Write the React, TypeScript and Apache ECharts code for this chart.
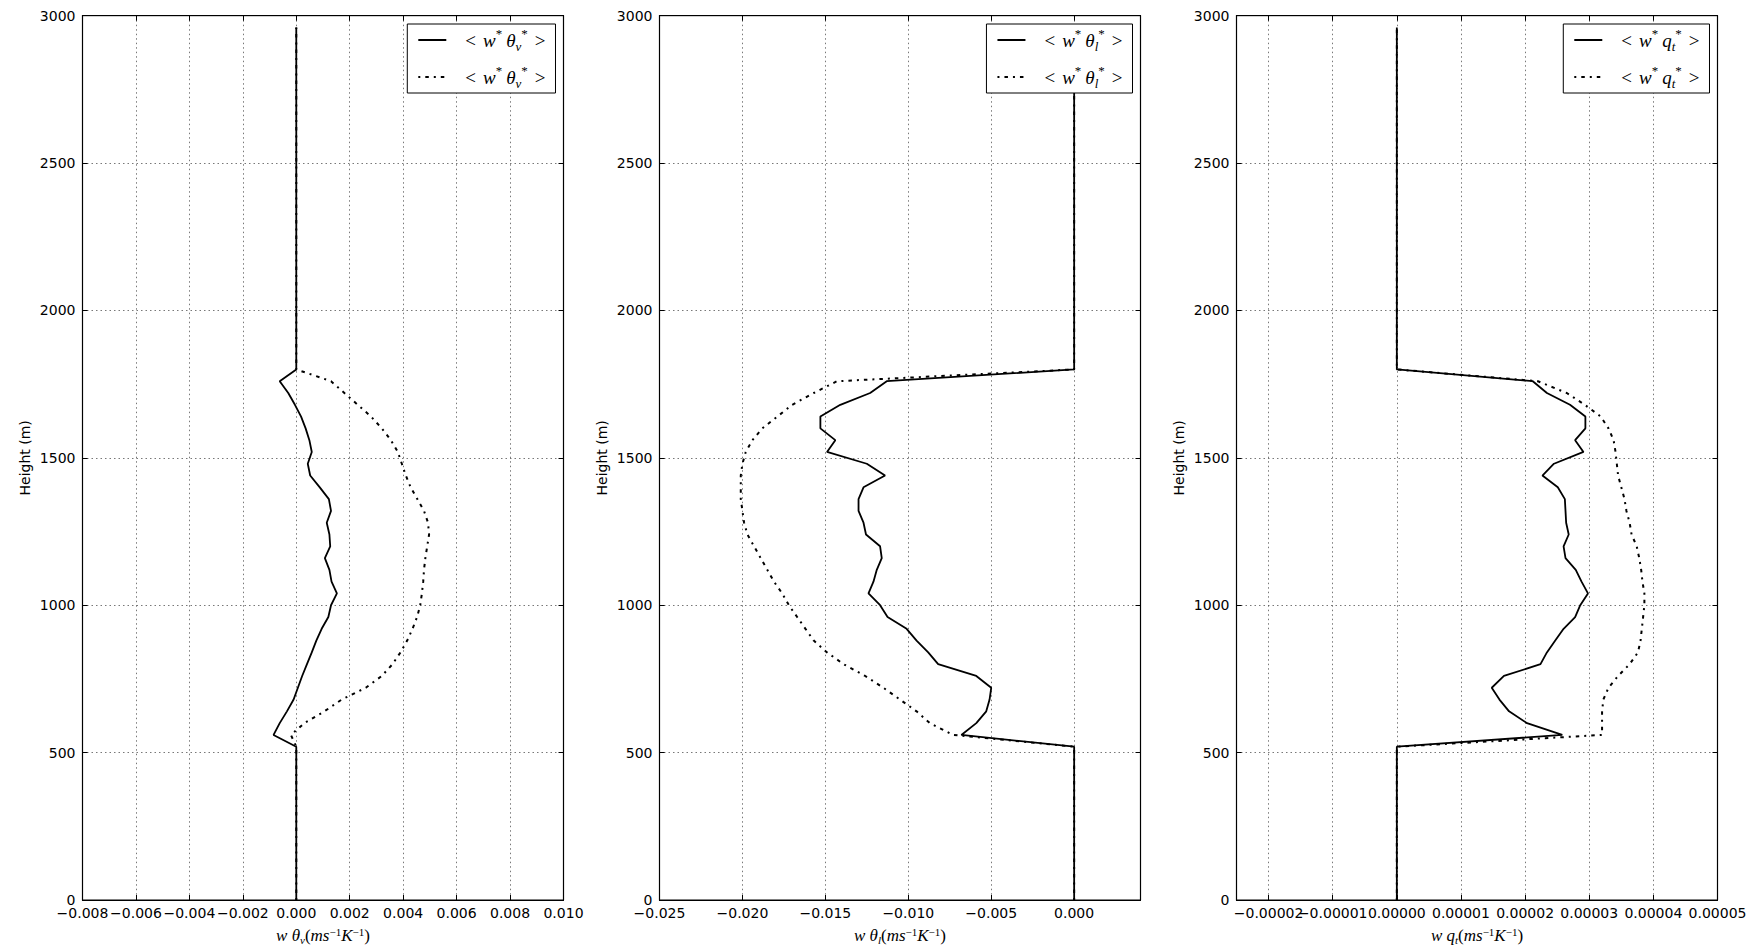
import React, { useEffect, useRef } from "react";
import * as echarts from "echarts";

// Heights (m) of the profile levels
const HEIGHTS = [
  0, 520, 560, 600, 640, 680, 720, 760, 800, 840, 880, 920, 960, 1000, 1040, 1080, 1120,
  1160, 1200, 1240, 1280, 1320, 1360, 1400, 1440, 1480, 1520, 1560, 1600, 1640, 1680,
  1720, 1760, 1800, 2960,
];

// Panel 1: <w* theta_v*>
const THV_SOLID = [
  0, 0, -0.00085, -0.00062, -0.00035, -0.0001, 0.00006, 0.00022, 0.0004, 0.00058, 0.00075,
  0.00095, 0.0012, 0.0013, 0.00152, 0.00132, 0.00124, 0.00107, 0.00127, 0.00124, 0.00114,
  0.0013, 0.00122, 0.00088, 0.00052, 0.00043, 0.00058, 0.00049, 0.00035, 0.00018, -0.00005,
  -0.0003, -0.00062, 0, 0,
];
const THV_DOTTED = [
  0, 0, -0.0002, 0.0003, 0.00105, 0.0017, 0.0026, 0.0032, 0.0036, 0.0039, 0.00415, 0.00435,
  0.00452, 0.00464, 0.0047, 0.00475, 0.00478, 0.00483, 0.0049, 0.00497, 0.00493, 0.00478,
  0.00453, 0.00428, 0.0041, 0.00395, 0.0038, 0.00354, 0.0032, 0.0028, 0.0023, 0.0018, 0.0013,
  0, 0,
];

// Panel 2: <w* theta_l*>
const THL_SOLID = [
  0, 0, -0.0068, -0.0059, -0.0053, -0.0051, -0.005, -0.0059, -0.0082, -0.0088, -0.0095,
  -0.0101, -0.01125, -0.0117, -0.0124, -0.0121, -0.0119, -0.0116, -0.0117, -0.01255, -0.0127,
  -0.013, -0.013, -0.0127, -0.0114, -0.0125, -0.0149, -0.0144, -0.0153, -0.0153, -0.0141,
  -0.0123, -0.0113, 0, 0,
];
const THL_DOTTED = [
  0, 0, -0.0073, -0.0087, -0.0095, -0.0105, -0.0115, -0.0126, -0.0139, -0.0149, -0.0157,
  -0.0162, -0.0167, -0.0172, -0.0176, -0.0181, -0.0185, -0.0189, -0.0193, -0.0197, -0.0199,
  -0.02, -0.0201, -0.0201, -0.0201, -0.02, -0.0198, -0.0194, -0.0188, -0.0179, -0.017,
  -0.0157, -0.0143, 0, 0,
];

// Panel 3: <w* q_t*>
const QT_SOLID = [
  0, 0, 2.58e-5, 2.03e-5, 1.75e-5, 1.6e-5, 1.48e-5, 1.67e-5, 2.24e-5, 2.34e-5, 2.47e-5,
  2.6e-5, 2.78e-5, 2.86e-5, 2.98e-5, 2.88e-5, 2.79e-5, 2.63e-5, 2.6e-5, 2.68e-5, 2.64e-5,
  2.63e-5, 2.62e-5, 2.51e-5, 2.27e-5, 2.45e-5, 2.91e-5, 2.78e-5, 2.94e-5, 2.94e-5, 2.7e-5,
  2.34e-5, 2.12e-5, 0, 0,
];
const QT_DOTTED = [
  0, 0, 3.2e-5, 3.2e-5, 3.2e-5, 3.22e-5, 3.3e-5, 3.45e-5, 3.63e-5, 3.76e-5, 3.8e-5, 3.82e-5,
  3.84e-5, 3.86e-5, 3.86e-5, 3.83e-5, 3.81e-5, 3.78e-5, 3.74e-5, 3.66e-5, 3.63e-5, 3.58e-5,
  3.55e-5, 3.5e-5, 3.45e-5, 3.43e-5, 3.41e-5, 3.38e-5, 3.3e-5, 3.18e-5, 2.93e-5, 2.65e-5,
  2.2e-5, 0, 0,
];

const HEIGHT_TICKS = { min: 0, max: 3000, step: 500 };
const X_RANGES = [
  { min: -0.008, max: 0.01, step: 0.002, decimals: 3 },
  { min: -0.025, max: 0.004, step: 0.005, decimals: 3 },
  { min: -0.000025, max: 0.00005, step: 0.00001, decimals: 5 },
];
const SUBSCRIPTS = ["v", "l", "t"];
const SYMBOLS = ["θ", "θ", "q"];
const Y_NAME = "Height (m)";

const SERIF = "Liberation Serif";
const SANS = "DejaVu Sans";

const GRID_LEFTS = [82.5, 659.5, 1236.5];
const GRID_W = 481;
const GRID_TOP = 15.7;
const GRID_H = 884.3;

const makeFmt = (step: number, dec: number) => (v: number) => {
  const k = v / step;
  if (Math.abs(k - Math.round(k)) > 1e-6) return "";
  const val = Math.abs(v) < step * 1e-6 ? 0 : v;
  return val.toFixed(dec).replace("-", "\u2212");
};

const richMath = {
  n: { fontFamily: SERIF, fontSize: 19, lineHeight: 26, color: "#000" },
  i: { fontFamily: SERIF, fontStyle: "italic", fontSize: 19, lineHeight: 26, color: "#000" },
  sp: { fontFamily: SERIF, fontSize: 13, lineHeight: 13, verticalAlign: "top", color: "#000" },
  sb: {
    fontFamily: SERIF,
    fontStyle: "italic",
    fontSize: 13,
    lineHeight: 11,
    verticalAlign: "bottom",
    color: "#000",
  },
  g: { width: 14 },
  g1: { width: 7 },
  g2: { width: 4 },
};

const richName = {
  i: { fontFamily: SERIF, fontStyle: "italic", fontSize: 17, lineHeight: 19, color: "#000" },
  n: { fontFamily: SERIF, fontSize: 17, lineHeight: 19, color: "#000" },
  sp: { fontFamily: SERIF, fontSize: 11, lineHeight: 9, verticalAlign: "top", color: "#000" },
  sb: {
    fontFamily: SERIF,
    fontStyle: "italic",
    fontSize: 11,
    lineHeight: 8,
    verticalAlign: "bottom",
    color: "#000",
  },
};

export default function App() {
  const ref = useRef<HTMLDivElement>(null);
  useEffect(() => {
    if (!ref.current) return;
    const chart = echarts.init(ref.current, undefined, { renderer: "svg" });
    const profiles = [
      [THV_SOLID, THV_DOTTED],
      [THL_SOLID, THL_DOTTED],
      [QT_SOLID, QT_DOTTED],
    ];
    const grids: any[] = [];
    const xAxes: any[] = [];
    const yAxes: any[] = [];
    const series: any[] = [];
    const legends: any[] = [];
    const legendLabel: Record<string, string> = {};

    const gridLine = { show: true, lineStyle: { color: "#555", width: 0.8, type: [1.5, 3] } };
    const axisLine = { show: true, onZero: false, lineStyle: { color: "#000", width: 1.2 } };
    const axisTick = { show: true, inside: true, length: 5, lineStyle: { color: "#000", width: 1 } };

    X_RANGES.forEach((r, i) => {
      grids.push({
        left: GRID_LEFTS[i],
        top: GRID_TOP,
        width: GRID_W,
        height: GRID_H,
        show: true,
        outerBoundsMode: "none",
        containLabel: false,
        borderColor: "#000",
        borderWidth: 1,
        backgroundColor: "#fff",
      });
      const xScale: any =
        i === 2
          ? { min: r.min, max: r.max, minInterval: r.step, maxInterval: r.step, splitNumber: 7 }
          : { min: r.min, max: r.max, interval: r.step };
      const sub = SUBSCRIPTS[i];
      xAxes.push({
        gridIndex: i,
        type: "value",
        position: "bottom",
        ...xScale,
        axisLine,
        axisTick,
        splitLine: gridLine,
        axisLabel: {
          formatter: makeFmt(r.step, r.decimals),
          fontFamily: SANS,
          fontSize: 14,
          color: "#000",
          margin: 6,
        },
        name: `{i|w }{i|${SYMBOLS[i]}}{sb|${sub}}{n|(}{i|ms}{sp|−1}{i|K}{sp|−1}{n|)}`,
        nameLocation: "middle",
        nameGap: 26,
        nameTextStyle: { rich: richName },
      });
      xAxes.push({
        gridIndex: i,
        type: "value",
        position: "top",
        ...xScale,
        axisLine,
        axisTick,
        splitLine: { show: false },
        axisLabel: { show: false },
      });
      yAxes.push({
        gridIndex: i,
        type: "value",
        position: "left",
        min: HEIGHT_TICKS.min,
        max: HEIGHT_TICKS.max,
        interval: HEIGHT_TICKS.step,
        axisLine,
        axisTick,
        splitLine: gridLine,
        axisLabel: {
          fontFamily: SANS,
          fontSize: 14,
          color: "#000",
          margin: 7,
          formatter: (v: number) => String(v),
        },
        name: Y_NAME,
        nameLocation: "middle",
        nameGap: 51,
        nameTextStyle: { fontFamily: SANS, fontSize: 14, color: "#000" },
      });
      yAxes.push({
        gridIndex: i,
        type: "value",
        position: "right",
        min: HEIGHT_TICKS.min,
        max: HEIGHT_TICKS.max,
        interval: HEIGHT_TICKS.step,
        axisLine,
        axisTick,
        splitLine: { show: false },
        axisLabel: { show: false },
      });

      const names = [`p${i}_solid`, `p${i}_dotted`];
      const label = `{n|<}{g1|}{i|w}{sp|*}{g2|}{i|${SYMBOLS[i]}}{sb|${sub}}{sp|*}{g1|}{n|>}`;
      names.forEach((nm, k) => {
        legendLabel[nm] = `{g|}` + label;
        series.push({
          name: nm,
          type: "line",
          color: "#000",
          xAxisIndex: 2 * i,
          yAxisIndex: 2 * i,
          symbol: "none",
          showSymbol: false,
          data: HEIGHTS.map((h, j) => [profiles[i][k][j], h]),
          itemStyle: { color: "#000" },
          lineStyle: {
            color: "#000",
            width: k === 0 ? 1.8 : 2,
            type: k === 0 ? "solid" : [2, 5, 3.5, 5],
          },
          silent: true,
          z: k === 0 ? 3 : 2,
        });
      });
      legends.push({
        data: names,
        orient: "vertical",
        right: 1755 - (GRID_LEFTS[i] + GRID_W - 8),
        top: 24,
        padding: [3, 10, 3, 10],
        itemGap: 11,
        itemWidth: 28,
        itemHeight: 14,
        borderColor: "#000",
        borderWidth: 1,
        borderRadius: 0,
        backgroundColor: "#fff",
        selectedMode: false,
        itemStyle: { opacity: 0 },
        lineStyle: { color: "#000", width: 2, opacity: 1 },
        formatter: (nm: string) => legendLabel[nm],
        textStyle: { rich: richMath },
      });
    });

    chart.setOption({
      animation: false,
      backgroundColor: "#fff",
      grid: grids,
      xAxis: xAxes,
      yAxis: yAxes,
      series,
      legend: legends,
    });
    return () => chart.dispose();
  }, []);
  return (
    <div
      ref={ref}
      style={{ position: "absolute", left: 0, top: 0, width: 1755, height: 947 }}
    />
  );
}
